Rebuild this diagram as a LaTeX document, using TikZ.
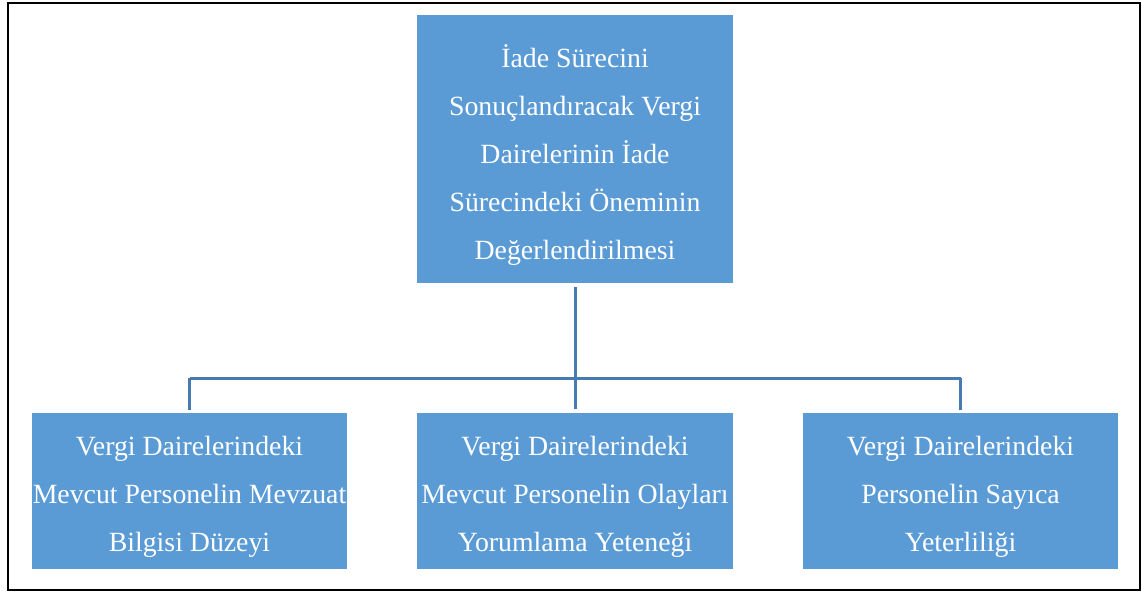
\documentclass[tikz,border=0pt]{standalone}
\usepackage{fontspec}
\setmainfont{Liberation Serif}
\definecolor{boxblue}{RGB}{91,155,213}
\definecolor{lineblue}{RGB}{70,122,176}
\begin{document}
\begin{tikzpicture}[x=1pt,y=-1pt,
  box/.style={fill=boxblue, inner sep=0pt},
  txt/.style={inner sep=0pt, text=white, align=center,
    font=\fontsize{27.8}{48}\selectfont},
  conn/.style={draw=lineblue, line width=3pt},
  frame/.style={draw=black, line width=2pt}]
\useasboundingbox (0,0) rectangle (1142,596);
\draw[frame] (8,3) rectangle (1140,590);
\node[box, minimum width=316pt, minimum height=268pt] (top) at (575,149) {};
\node[box, minimum width=315pt, minimum height=156pt] (left) at (189.5,491) {};
\node[box, minimum width=316pt, minimum height=156pt] (mid) at (575,491) {};
\node[box, minimum width=315pt, minimum height=156pt] (right) at (960.5,491) {};
\node[txt] (toptxt) at ([yshift=-6pt]top.center)
  {İade Sürecini\\Sonuçlandıracak Vergi\\Dairelerinin İade\\Sürecindeki Öneminin\\Değerlendirilmesi};
\node[txt] (lefttxt) at ([yshift=-6pt]left.center)
  {Vergi Dairelerindeki\\Mevcut Personelin Mevzuat\\Bilgisi Düzeyi};
\node[txt] (midtxt) at ([yshift=-6pt]mid.center)
  {Vergi Dairelerindeki\\Mevcut Personelin Olayları\\Yorumlama Yeteneği};
\node[txt] (righttxt) at ([yshift=-6pt]right.center)
  {Vergi Dairelerindeki\\Personelin Sayıca\\Yeterliliği};
\coordinate (bus) at (575,378);
\draw[conn] ([yshift=-4pt]top.south) -- ([yshift=4pt]mid.north);
\draw[conn] (left.north |- bus) -- (right.north |- bus);
\draw[conn] (left.north |- bus) -- ([yshift=3pt]left.north);
\draw[conn] (right.north |- bus) -- ([yshift=3pt]right.north);
\end{tikzpicture}
\end{document}
